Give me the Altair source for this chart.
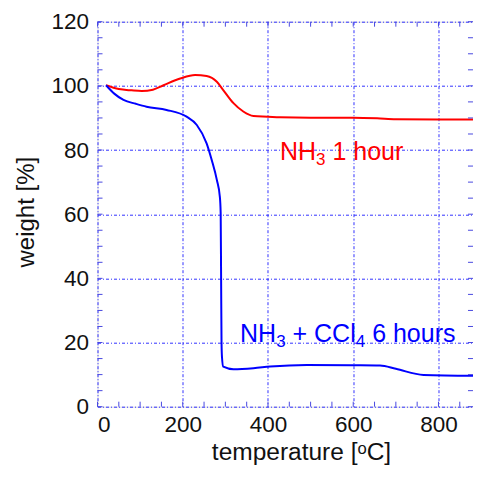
import altair as alt
import pandas as pd

# --- data ---
red_T = [20, 50, 80, 104, 130, 155, 194, 229, 256, 280, 295, 319, 342, 366, 400, 428, 500, 600, 656, 700, 800, 900]
red_W = [100.2, 99.0, 98.6, 98.4, 98.8, 100.2, 102.3, 103.4, 103.1, 101.3, 98.7, 94.6, 92.0, 90.6, 90.4, 90.2, 90.1, 90.1, 89.9, 89.6, 89.5, 89.5]

blue_T = [20, 40, 61, 90, 115, 162, 209, 233, 256, 268, 280, 287, 289, 290, 291, 292, 295, 319, 366, 405, 491, 600, 663, 700, 765, 900]
blue_W = [100.2, 97.5, 95.6, 94.4, 93.5, 92.5, 90.4, 87.8, 82.1, 76.9, 70.7, 65.5, 60.4, 40.0, 20.0, 15.6, 12.5, 11.7, 12.0, 12.5, 13.0, 12.9, 12.8, 11.8, 9.9, 9.6]

x_major = [0, 200, 400, 600, 800]
y_major = [0, 20, 40, 60, 80, 100, 120]
x_minor = list(range(0, 901, 50))
y_minor = list(range(0, 121, 5))

# annotation labels: pieces (text, is_subscript), anchored at (T, W)
red_label = [("NH", False), ("3", True), (" 1 hour", False)]
blue_label = [("NH", False), ("3", True), (" + CCl", False), ("4", True), (" 6 hours", False)]
red_anchor = (428, 76.9)
blue_anchor = (334.4, 20.3)

X_MAX = 881          # visible right edge of the frame
W, H = 375.5, 385
FRAME = "#4848e0"
FONT = "Liberation Sans"
LBL = 25
SUB = 17

# Arial / Liberation Sans advance widths (per 1000 em)
ADV = {"N": 722, "H": 722, " ": 278, "+": 584, "C": 722, "l": 222, "h": 556, "o": 556,
       "u": 556, "r": 333, "s": 500}
for d in "0123456789":
    ADV[d] = 556


def text_width(s, size):
    return sum(ADV.get(c, 556) for c in s) * size / 1000.0


xs = alt.Scale(domain=[0, X_MAX], nice=False, zero=False)
ys = alt.Scale(domain=[0, 120], nice=False, zero=False)

df_red = pd.DataFrame({"T": red_T, "W": red_W})
df_blue = pd.DataFrame({"T": blue_T, "W": blue_W})
df_xmin = pd.DataFrame({"T": [v for v in x_minor if v <= X_MAX]})
df_ymin = pd.DataFrame({"W": y_minor})

base_x = alt.X("T:Q", scale=xs, axis=alt.Axis(
    values=x_major, title="temperature [\u1d52C]", grid=True, gridColor="#3030ff",
    gridDash=[3, 2, 1, 2], gridWidth=1, tickSize=0, domain=False,
    labelFont=FONT, labelFontSize=22.5, labelColor="#111", labelPadding=7,
    titleFont=FONT, titleFontSize=24.5, titleFontWeight="normal", titleColor="#111",
    titleX=203.5, titleY=52.5, titleBaseline="alphabetic"))
base_y = alt.Y("W:Q", scale=ys, axis=alt.Axis(
    values=y_major, title="weight [%]", grid=True, gridColor="#3030ff",
    gridDash=[3, 2, 1, 2], gridWidth=1, tickSize=0, domain=False,
    labelFont=FONT, labelFontSize=22.5, labelColor="#111", labelPadding=9,
    titleFont=FONT, titleFontSize=24, titleFontWeight="normal", titleColor="#111",
    titleX=-64.5, titleY=190, titleBaseline="alphabetic", titleAngle=270, titleAlign="center"))

red = alt.Chart(df_red).mark_line(color="#ff0000", strokeWidth=2, interpolate="monotone", clip=True).encode(x=base_x, y=base_y)
blue = alt.Chart(df_blue).mark_line(color="#0000ff", strokeWidth=2, interpolate="monotone", clip=True).encode(
    x=alt.X("T:Q", scale=xs), y=alt.Y("W:Q", scale=ys))

tick_style = dict(color=FRAME, strokeWidth=1)
xt_bot = alt.Chart(df_xmin).mark_rule(**tick_style).encode(
    x=alt.X("T:Q", scale=xs), y=alt.value(H), y2=alt.value(H - 5))
xt_top = alt.Chart(df_xmin).mark_rule(**tick_style).encode(
    x=alt.X("T:Q", scale=xs), y=alt.value(0), y2=alt.value(5))
yt_left = alt.Chart(df_ymin).mark_rule(**tick_style).encode(
    y=alt.Y("W:Q", scale=ys), x=alt.value(0), x2=alt.value(5))
yt_right = alt.Chart(df_ymin).mark_rule(**tick_style).encode(
    y=alt.Y("W:Q", scale=ys), x=alt.value(W), x2=alt.value(W - 5))


def label_layers(parts, anchor, color):
    out = []
    dx = 0.0
    df = pd.DataFrame({"T": [anchor[0]], "W": [anchor[1]]})
    for txt, sub in parts:
        size = SUB if sub else LBL
        lead = len(txt) - len(txt.lstrip(" "))
        dx += text_width(" " * lead, size)
        body = txt.lstrip(" ")
        out.append(alt.Chart(df).mark_text(
            text=body, font=FONT, fontSize=size, align="left", baseline="alphabetic",
            color=color, dx=dx, dy=5 if sub else 0).encode(
            x=alt.X("T:Q", scale=xs), y=alt.Y("W:Q", scale=ys)))
        dx += text_width(body, size)
    return out


layers = [red, blue, xt_bot, xt_top, yt_left, yt_right]
layers += label_layers(red_label, red_anchor, "#ff0000")
layers += label_layers(blue_label, blue_anchor, "#0000ff")

chart = alt.layer(*layers).properties(
    width=W, height=H,
    autosize=alt.AutoSizeParams(type="none"),
    padding={"left": 89.5, "top": 13.7, "right": 0, "bottom": 59},
).configure_view(stroke=FRAME, strokeWidth=1.5).configure(background="white")

chart.save("out.html", embed_options={"renderer": "svg", "actions": False})
